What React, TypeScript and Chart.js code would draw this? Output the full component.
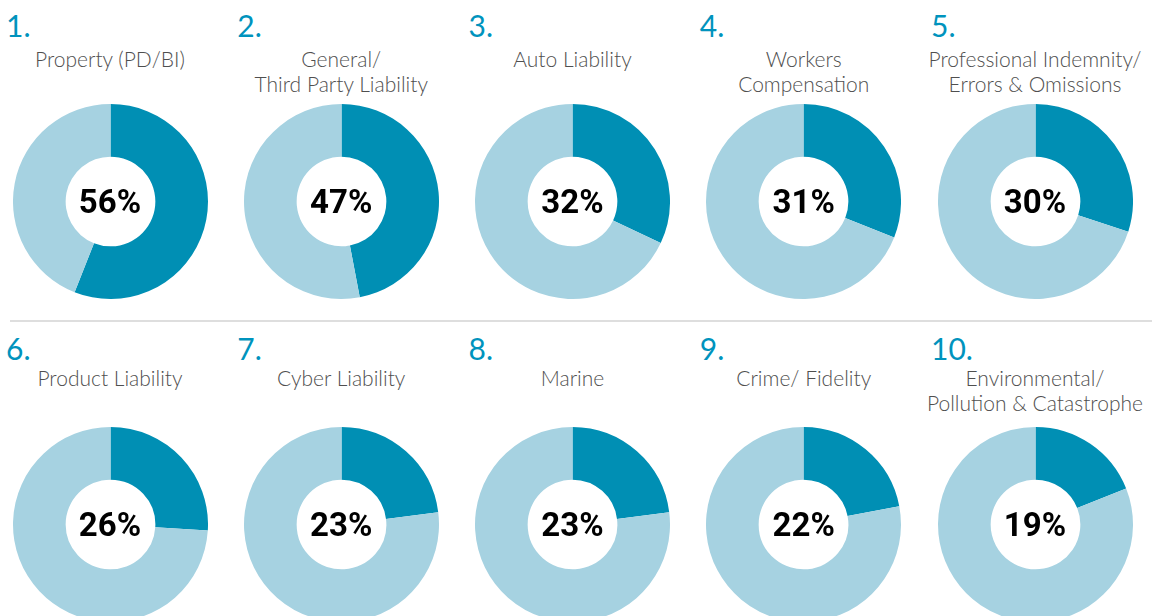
import React, { useEffect, useRef } from "react";
import { Chart, registerables } from "chart.js";

Chart.register(...registerables);

const ranks = ["1.", "2.", "3.", "4.", "5.", "6.", "7.", "8.", "9.", "10."];
const categories: string[][] = [
  ["Property (PD/BI)"],
  ["General/", "Third Party Liability"],
  ["Auto Liability"],
  ["Workers", "Compensation"],
  ["Professional Indemnity/", "Errors & Omissions"],
  ["Product Liability"],
  ["Cyber Liability"],
  ["Marine"],
  ["Crime/ Fidelity"],
  ["Environmental/", "Pollution & Catastrophe"],
];
const shares = [56, 47, 32, 31, 30, 26, 23, 23, 22, 19];

const DARK = "#008fb4";
const LIGHT = "#a6d2e1";
const RANK_BLUE = "#0093bd";
const FONT = "Lato, 'Open Sans', sans-serif";
const PCT_FONT = "Roboto, Lato, sans-serif";

const COL0 = 110;
const COL_STEP = 231.25;
const ROW_CENTER = [201.5, 524];
const ROW_TOP = [0, 323];
const LABEL_TOP = [46, 365];
const RADIUS = 97.5;

function Donut({ value, cx, cy }: { value: number; cx: number; cy: number }) {
  const ref = useRef<HTMLCanvasElement | null>(null);
  useEffect(() => {
    if (!ref.current) return;
    const chart = new Chart(ref.current, {
      type: "doughnut",
      data: {
        labels: ["Yes", "No"],
        datasets: [
          {
            data: [value, 100 - value],
            backgroundColor: [DARK, LIGHT],
            borderWidth: 0,
            hoverOffset: 0,
          },
        ],
      },
      options: {
        responsive: false,
        animation: false,
        cutout: "46%",
        layout: { padding: 0 },
        plugins: { legend: { display: false }, tooltip: { enabled: false } },
        events: [],
      },
    });
    return () => chart.destroy();
  }, [value]);
  const size = RADIUS * 2;
  return (
    <>
      <canvas
        ref={ref}
        width={size}
        height={size}
        style={{ position: "absolute", left: cx - RADIUS, top: cy - RADIUS, width: size, height: size }}
      />
      <div
        style={{
          position: "absolute",
          left: cx - 60,
          top: cy - 20,
          width: 120,
          height: 40,
          display: "flex",
          alignItems: "center",
          justifyContent: "center",
          fontFamily: PCT_FONT,
          fontWeight: 700,
          fontSize: 33,
          lineHeight: "33px",
          color: "#000",
        }}
      >
        {value}%
      </div>
    </>
  );
}

export default function App() {
  return (
    <div
      style={{
        position: "absolute",
        left: 0,
        top: 0,
        width: 1152,
        height: 616,
        overflow: "hidden",
        background: "#fff",
      }}
    >
      <div
        style={{
          position: "absolute",
          left: 10,
          top: 320,
          width: 1142,
          height: 2,
          background: "#dedede",
        }}
      />
      {shares.map((v, i) => {
        const row = Math.floor(i / 5);
        const col = i % 5;
        const cx = COL0 + col * COL_STEP;
        const top = ROW_TOP[row];
        return (
          <React.Fragment key={i}>
            <div
              style={{
                position: "absolute",
                left: cx - 104,
                top: top + 10,
                fontFamily: FONT,
                fontWeight: 400,
                fontSize: 30,
                lineHeight: "30px",
                color: RANK_BLUE,
                whiteSpace: "nowrap",
              }}
            >
              {ranks[i]}
            </div>
            <div
              style={{
                position: "absolute",
                left: cx - 130,
                top: LABEL_TOP[row],
                width: 260,
                textAlign: "center",
                fontFamily: FONT,
                fontWeight: 300,
                fontSize: 21,
                lineHeight: "25px",
                color: "#4f4f4f",
                whiteSpace: "nowrap",
              }}
            >
              {categories[i].map((l, k) => (
                <div key={k}>{l}</div>
              ))}
            </div>
            <Donut value={v} cx={cx} cy={ROW_CENTER[row]} />
          </React.Fragment>
        );
      })}
    </div>
  );
}
